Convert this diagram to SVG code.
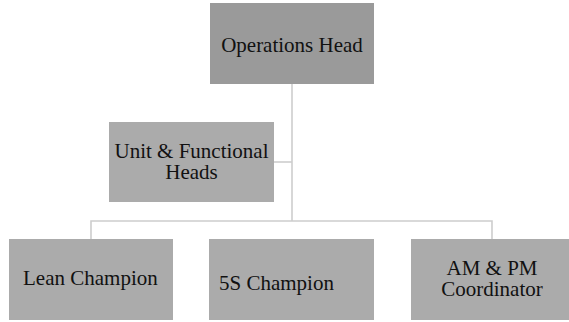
<svg xmlns="http://www.w3.org/2000/svg" width="569" height="322" viewBox="0 0 569 322">
  <style>
    .box { fill: #ababab; }
    .head { fill: #9a9a9a; }
    .wire { stroke: #cdcdcd; stroke-width: 1.6; fill: none; }
  </style>
  <rect width="569" height="322" fill="#ffffff"/>

  <!-- connectors -->
  <g id="connectors">
    <path class="wire" d="M292 84 V221"/>
    <path class="wire" d="M274 162 H292"/>
    <path class="wire" d="M91 239 V221 H492 V239"/>
  </g>

  <!-- nodes -->
  <g font-family="Liberation Serif, serif" font-size="21" fill="#111111">
    <g id="operations-head">
      <rect class="head" x="210" y="3" width="164" height="81"/>
      <text x="292" y="52" text-anchor="middle">Operations Head</text>
    </g>

    <g id="unit-functional-heads">
      <rect class="box" x="109" y="122" width="165" height="80"/>
      <text x="191.5" y="157.5" text-anchor="middle">Unit &amp; Functional</text>
      <text x="191.5" y="179" text-anchor="middle">Heads</text>
    </g>

    <g id="lean-champion">
      <rect class="box" x="9" y="239" width="164" height="81"/>
      <text x="23" y="285">Lean Champion</text>
    </g>

    <g id="five-s-champion">
      <rect class="box" x="209" y="239" width="165" height="81"/>
      <text x="219" y="290">5S Champion</text>
    </g>

    <g id="am-pm-coordinator">
      <rect class="box" x="411" y="239" width="164" height="81"/>
      <text x="492" y="274.5" text-anchor="middle">AM &amp; PM</text>
      <text x="492" y="296" text-anchor="middle">Coordinator</text>
    </g>
  </g>
</svg>
